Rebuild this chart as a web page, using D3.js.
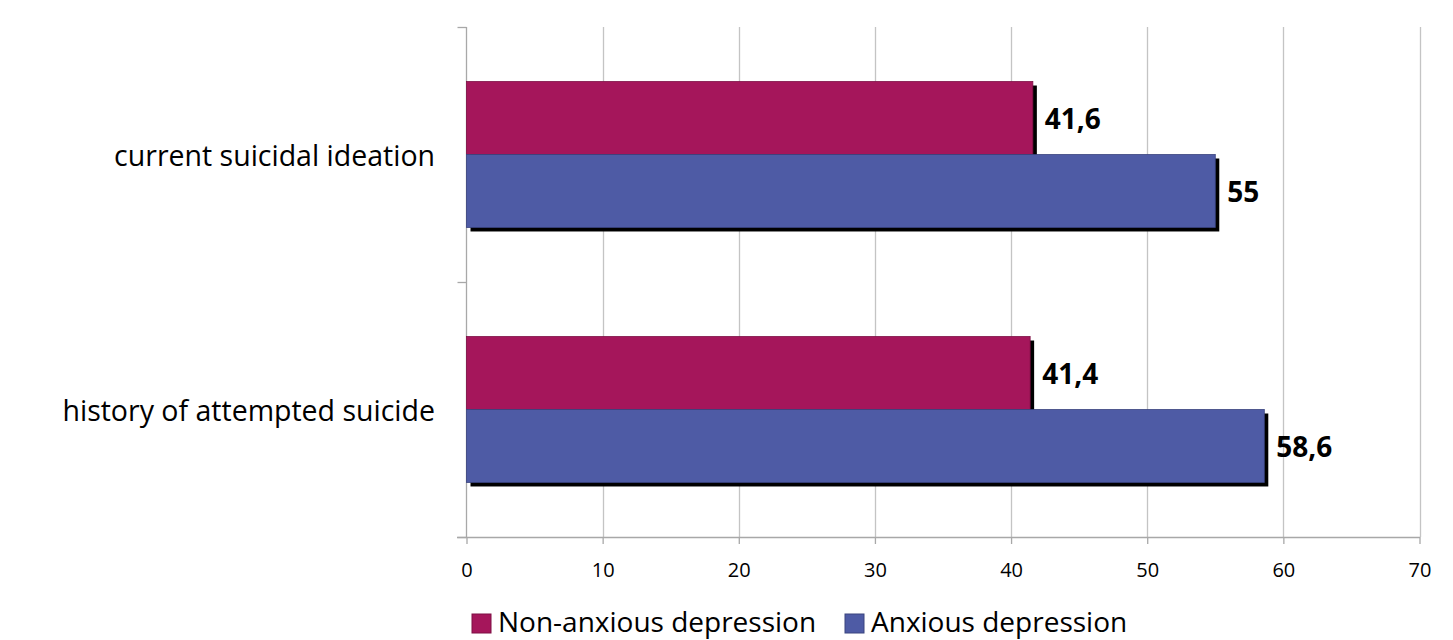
<!DOCTYPE html>
<html>
<head>
<meta charset="utf-8">
<script src="https://cdn.jsdelivr.net/npm/d3@7"></script>
<style>
  html, body { margin: 0; padding: 0; background: #fff; }
  svg { display: block; }
  text { font-family: "Open Sans", "DejaVu Sans", sans-serif; fill: #000; }
</style>
</head>
<body>
<svg id="chart" width="1453" height="640"></svg>
<script>
// Share of patients (%) by depression subtype
const categories = ["current suicidal ideation", "history of attempted suicide"];
const seriesNames = ["Non-anxious depression", "Anxious depression"];
const nonAnxious = [41.6, 41.4];
const anxious = [55, 58.6];
const valueLabels = [["41,6", "41,4"], ["55", "58,6"]];
const xTicks = [0, 10, 20, 30, 40, 50, 60, 70];

const seriesValues = [nonAnxious, anxious];
const colors = ["#a5165b", "#4e5ba5"];
const strokes = ["#7e0f45", "#3a447f"];

const svg = d3.select("#chart");

const x = d3.scaleLinear().domain([0, 70]).range([466.5, 1419.5]);
const y = d3.scaleBand().domain(categories).range([27, 537]).padding(0);
const ySub = d3.scaleBand()
  .domain(seriesNames)
  .range([0, y.bandwidth()])
  .paddingInner(0)
  .paddingOuter(0.747);

// Vertical gridlines
svg.append("g")
  .selectAll("line")
  .data(xTicks.slice(1))
  .join("line")
  .attr("x1", d => Math.round(x(d)) + 0.5)
  .attr("x2", d => Math.round(x(d)) + 0.5)
  .attr("y1", 27)
  .attr("y2", 537)
  .attr("stroke", "#c4c4c4")
  .attr("stroke-width", 1.3);

// Bottom axis
const xAxis = svg.append("g")
  .attr("transform", "translate(0,537)")
  .call(d3.axisBottom(x).tickValues(xTicks).tickSize(7).tickPadding(19).tickSizeOuter(0));
xAxis.select(".domain").remove();
xAxis.selectAll(".tick line").attr("stroke", "#a8a8a8").attr("stroke-width", 1.3);
xAxis.selectAll(".tick text")
  .style("font-family", "'Open Sans', sans-serif")
  .style("font-size", "20px")
  .attr("fill", "#000");
svg.append("line")
  .attr("x1", 457).attr("x2", 1420)
  .attr("y1", 537.5).attr("y2", 537.5)
  .attr("stroke", "#a8a8a8").attr("stroke-width", 1.3);

// Left axis with category separators
const yAxis = svg.append("g")
  .attr("transform", "translate(466.5,0)");
yAxis.append("line")
  .attr("x1", 0).attr("x2", 0).attr("y1", 27).attr("y2", 537)
  .attr("stroke", "#a8a8a8").attr("stroke-width", 1.3);
yAxis.selectAll("line.sep")
  .data([27, 282, 537])
  .join("line")
  .attr("class", "sep")
  .attr("x1", -9).attr("x2", 0)
  .attr("y1", d => d + 0.5).attr("y2", d => d + 0.5)
  .attr("stroke", "#a8a8a8").attr("stroke-width", 1.3);

// Category labels
svg.append("g")
  .selectAll("text")
  .data(categories)
  .join("text")
  .attr("x", 435)
  .attr("y", d => y(d) + y.bandwidth() / 2)
  .attr("text-anchor", "end")
  .attr("dominant-baseline", "central")
  .style("font-size", "28.5px")
  .text(d => d);

// Bars with drop shadows
const rows = [];
seriesNames.forEach((s, si) => {
  categories.forEach((c, ci) => {
    rows.push({ series: s, si, category: c, value: seriesValues[si][ci], label: valueLabels[si][ci] });
  });
});

const barG = svg.append("g");
barG.selectAll("rect.shadow")
  .data(rows)
  .join("rect")
  .attr("class", "shadow")
  .attr("x", x(0) + 4)
  .attr("y", d => y(d.category) + ySub(d.series) + 4)
  .attr("width", d => x(d.value) - x(0))
  .attr("height", ySub.bandwidth())
  .attr("fill", "#000");

barG.selectAll("rect.bar")
  .data(rows.slice().sort((a, b) => a.si - b.si))
  .join("rect")
  .attr("class", "bar")
  .attr("x", x(0))
  .attr("y", d => y(d.category) + ySub(d.series))
  .attr("width", d => x(d.value) - x(0))
  .attr("height", ySub.bandwidth())
  .attr("fill", d => colors[d.si])
  .attr("stroke", d => strokes[d.si])
  .attr("stroke-width", 0.8);

// Value labels
svg.append("g")
  .selectAll("text")
  .data(rows)
  .join("text")
  .attr("x", d => x(d.value) + 12)
  .attr("y", d => y(d.category) + ySub(d.series) + ySub.bandwidth() / 2)
  .attr("dominant-baseline", "central")
  .style("font-size", "28px")
  .style("font-weight", "bold")
  .text(d => d.label);

// Legend
const legend = svg.append("g").attr("transform", "translate(472,614)");
const legendX = [0, 373];
const items = legend.selectAll("g")
  .data(seriesNames)
  .join("g")
  .attr("transform", (d, i) => `translate(${legendX[i]},0)`);
items.append("rect")
  .attr("width", 19).attr("height", 19)
  .attr("fill", (d, i) => colors[i])
  .attr("stroke", (d, i) => strokes[i])
  .attr("stroke-width", 1);
items.append("text")
  .attr("x", 26)
  .attr("y", 18)
  .style("font-size", "28px")
  .text(d => d);
</script>
</body>
</html>
